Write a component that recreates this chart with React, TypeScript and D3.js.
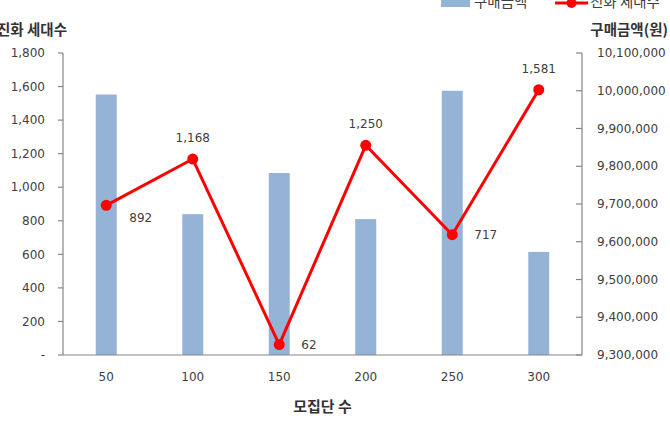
import React from "react";
import * as d3 from "d3";

const categories = ["50", "100", "150", "200", "250", "300"];
const purchaseAmounts = [9990000, 9673000, 9782000, 9660000, 10000000, 9573000];
const generations = [892, 1168, 62, 1250, 717, 1581];
const labelPlacement = ["rightLow", "above", "right", "above", "right", "above"];
const leftTicks = [0, 200, 400, 600, 800, 1000, 1200, 1400, 1600, 1800];
const rightTicks = [9300000, 9400000, 9500000, 9600000, 9700000, 9800000, 9900000, 10000000, 10100000];

const W = 670;
const H = 431;
const M = { left: 63, right: 582, top: 53, bottom: 355 };
const KFONT = "'Noto Sans CJK KR', 'Noto Sans', sans-serif";
const NFONT = "'DejaVu Sans', sans-serif";
const TXT = "#404040";
const AXIS = "#868686";
const BAR = "#95B3D7";
const RED = "#FF0000";

export default function App() {
  const x = d3.scaleBand<string>().domain(categories).range([M.left, M.right]).paddingInner(0).paddingOuter(0);
  const yL = d3.scaleLinear().domain([0, 1800]).range([M.bottom, M.top]);
  const yR = d3.scaleLinear().domain([9300000, 10100000]).range([M.bottom, M.top]);
  const fmt = d3.format(",");
  const barW = 21;
  const cx = (c: string) => (x(c) as number) + x.bandwidth() / 2;
  const line = d3
    .line<number>()
    .x((_, i) => cx(categories[i]))
    .y((d) => yL(d));

  const labelPos = (p: string, px: number, py: number) => {
    if (p === "above") return { x: px, y: py - 21, anchor: "middle" };
    if (p === "rightLow") return { x: px + 23, y: py + 12, anchor: "start" };
    return { x: px + 22, y: py, anchor: "start" };
  };

  return (
    <svg width={W} height={H} style={{ position: "absolute", left: 0, top: 0, background: "#fff" }}>
      <rect x={0} y={0} width={W} height={H} fill="#fff" />
      {/* bars */}
      {purchaseAmounts.map((v, i) => (
        <rect
          key={"b" + i}
          x={cx(categories[i]) - barW / 2}
          y={yR(v)}
          width={barW}
          height={M.bottom - yR(v)}
          fill={BAR}
        />
      ))}
      {/* axes */}
      <line x1={M.left} x2={M.left} y1={M.top} y2={M.bottom} stroke={AXIS} strokeWidth={1.2} />
      <line x1={M.right} x2={M.right} y1={M.top} y2={M.bottom} stroke={AXIS} strokeWidth={1.2} />
      <line x1={M.left} x2={M.right} y1={M.bottom} y2={M.bottom} stroke={AXIS} strokeWidth={1.2} />
      {leftTicks.map((t) => (
        <g key={"lt" + t}>
          <line x1={M.left - 5} x2={M.left} y1={yL(t)} y2={yL(t)} stroke={AXIS} strokeWidth={1.2} />
          <text x={45} y={yL(t)} dy="0.35em" textAnchor="end" fontSize={12} fontFamily={NFONT} fill={TXT}>
            {t === 0 ? "-" : fmt(t)}
          </text>
        </g>
      ))}
      {rightTicks.map((t) => (
        <g key={"rt" + t}>
          <line x1={M.right - 6} x2={M.right} y1={yR(t)} y2={yR(t)} stroke={AXIS} strokeWidth={1.2} />
          <text x={597} y={yR(t)} dy="0.35em" textAnchor="start" fontSize={12} fontFamily={NFONT} fill={TXT}>
            {fmt(t)}
          </text>
        </g>
      ))}
      {categories.map((c) => (
        <text key={"xt" + c} x={cx(c)} y={377} dy="0.35em" textAnchor="middle" fontSize={12} fontFamily={NFONT} fill={TXT}>
          {c}
        </text>
      ))}
      {/* line */}
      <path d={line(generations) as string} fill="none" stroke={RED} strokeWidth={3} strokeLinejoin="round" />
      {generations.map((v, i) => (
        <circle key={"p" + i} cx={cx(categories[i])} cy={yL(v)} r={5.5} fill={RED} />
      ))}
      {generations.map((v, i) => {
        const p = labelPos(labelPlacement[i], cx(categories[i]), yL(v));
        return (
          <text key={"l" + i} x={p.x} y={p.y} dy="0.35em" textAnchor={p.anchor as any} fontSize={12} fontFamily={NFONT} fill={TXT}>
            {fmt(v)}
          </text>
        );
      })}
      {/* titles */}
      <text x={-3} y={30} dy="0.35em" fontSize={14.5} fontWeight="bold" fontFamily={KFONT} fill="#333">
        진화 세대수
      </text>
      <text x={668} y={30} dy="0.35em" textAnchor="end" fontSize={14.5} fontWeight="bold" fontFamily={KFONT} fill="#333">
        구매금액(원)
      </text>
      <text x={(M.left + M.right) / 2} y={407} dy="0.35em" textAnchor="middle" fontSize={15} fontWeight="bold" fontFamily={KFONT} fill="#333">
        모집단 수
      </text>
      {/* legend (partly cut at top) */}
      <rect x={441} y={-4} width={29} height={11} fill={BAR} />
      <text x={474} y={2} dy="0.35em" fontSize={14.5} fontFamily={KFONT} fill={TXT}>
        구매금액
      </text>
      <line x1={555} x2={588} y1={3} y2={3} stroke={RED} strokeWidth={3} />
      <circle cx={571.5} cy={3} r={5} fill={RED} />
      <text x={590} y={2} dy="0.35em" fontSize={14.5} fontFamily={KFONT} fill={TXT}>
        진화 세대수
      </text>
    </svg>
  );
}
